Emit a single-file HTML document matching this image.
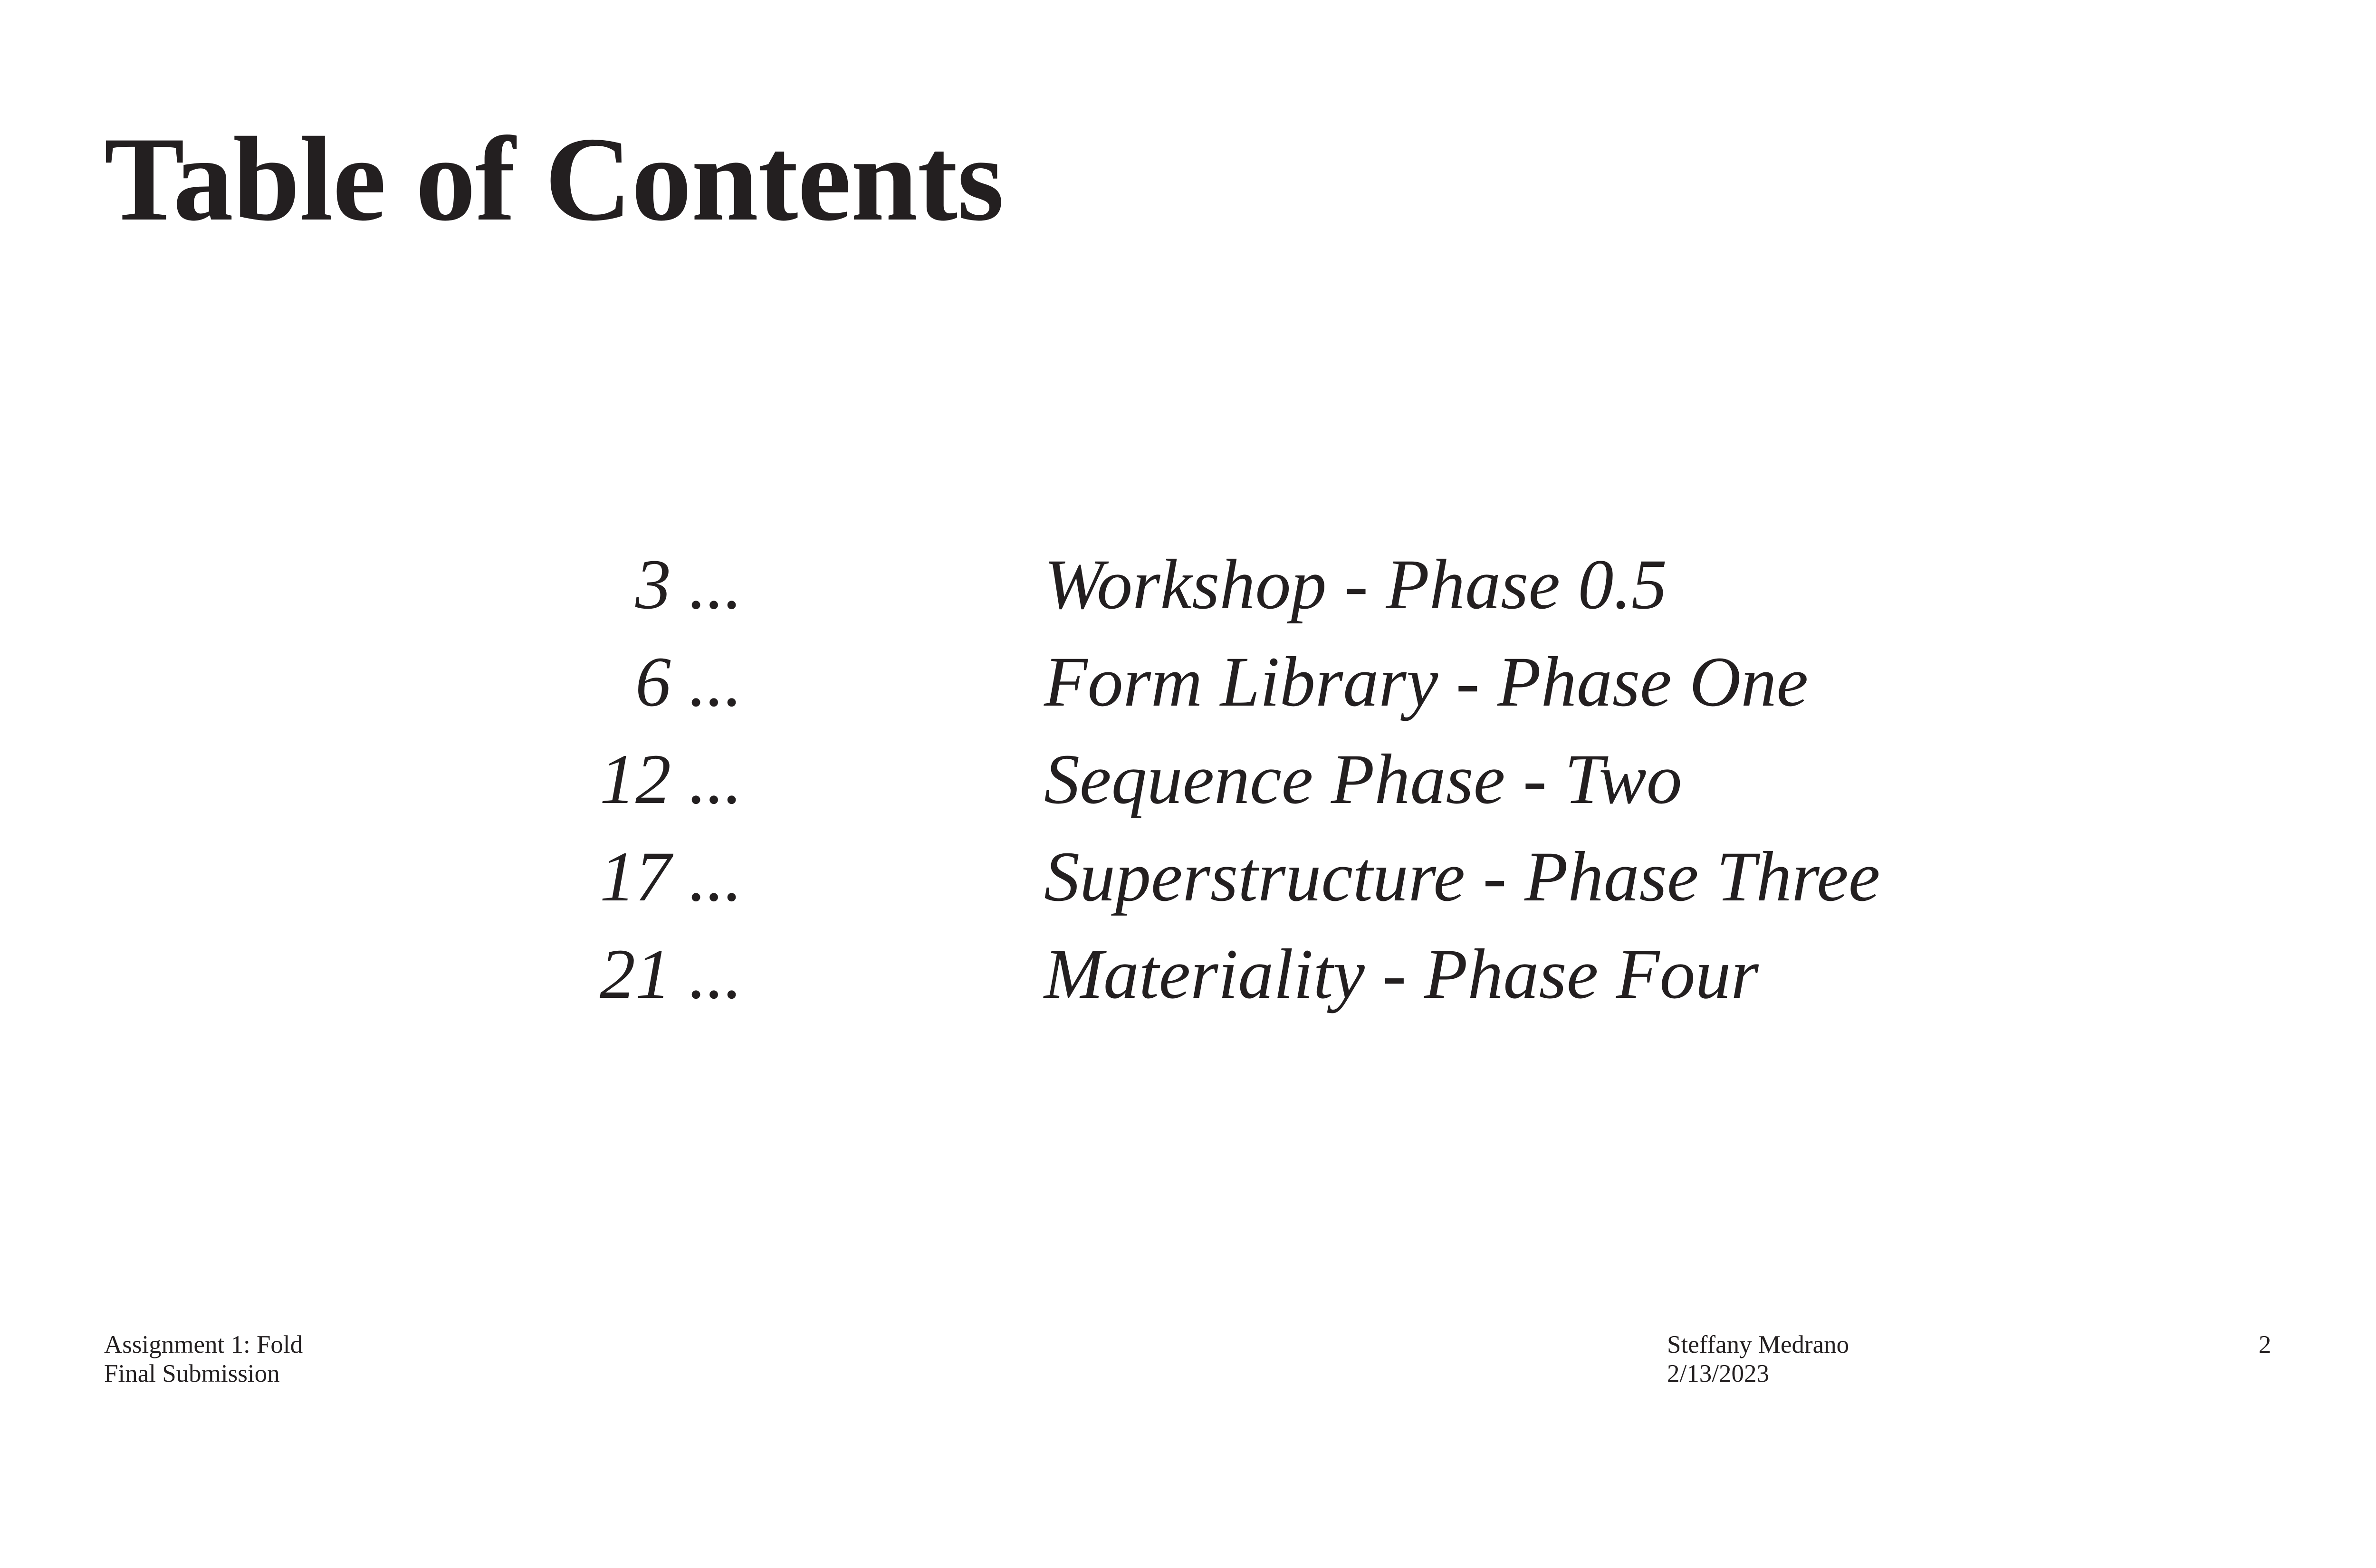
<!DOCTYPE html>
<html><head><meta charset="utf-8"><style>
html,body{margin:0;padding:0;background:#fff;}
body{width:5100px;height:3300px;position:relative;overflow:hidden;font-family:"Liberation Serif",serif;color:#231f20;}
h1{position:absolute;left:219px;top:250px;margin:0;font-size:254px;font-weight:bold;line-height:1;letter-spacing:-1px;}
.n{position:absolute;right:3538px;font-style:italic;font-size:150px;line-height:1;white-space:nowrap;}
.e{position:absolute;left:2197px;font-style:italic;font-size:150px;line-height:1;white-space:nowrap;}
.f{position:absolute;font-size:53px;line-height:61px;white-space:nowrap;}
</style></head><body>
<h1>Table of Contents</h1>
<div class="n" style="top:1155px">3 ...</div><div class="e" style="top:1155px">Workshop - Phase 0.5</div>
<div class="n" style="top:1360px">6 ...</div><div class="e" style="top:1360px">Form Library - Phase One</div>
<div class="n" style="top:1565px">12 ...</div><div class="e" style="top:1565px">Sequence Phase - Two</div>
<div class="n" style="top:1770px">17 ...</div><div class="e" style="top:1770px">Superstructure - Phase Three</div>
<div class="n" style="top:1975px">21 ...</div><div class="e" style="top:1975px">Materiality - Phase Four</div>
<div class="f" style="left:219px;top:2800px">Assignment 1: Fold<br>Final Submission</div>
<div class="f" style="left:3508px;top:2800px">Steffany Medrano<br>2/13/2023</div>
<div class="f" style="left:4753px;top:2800px">2</div>
</body></html>
